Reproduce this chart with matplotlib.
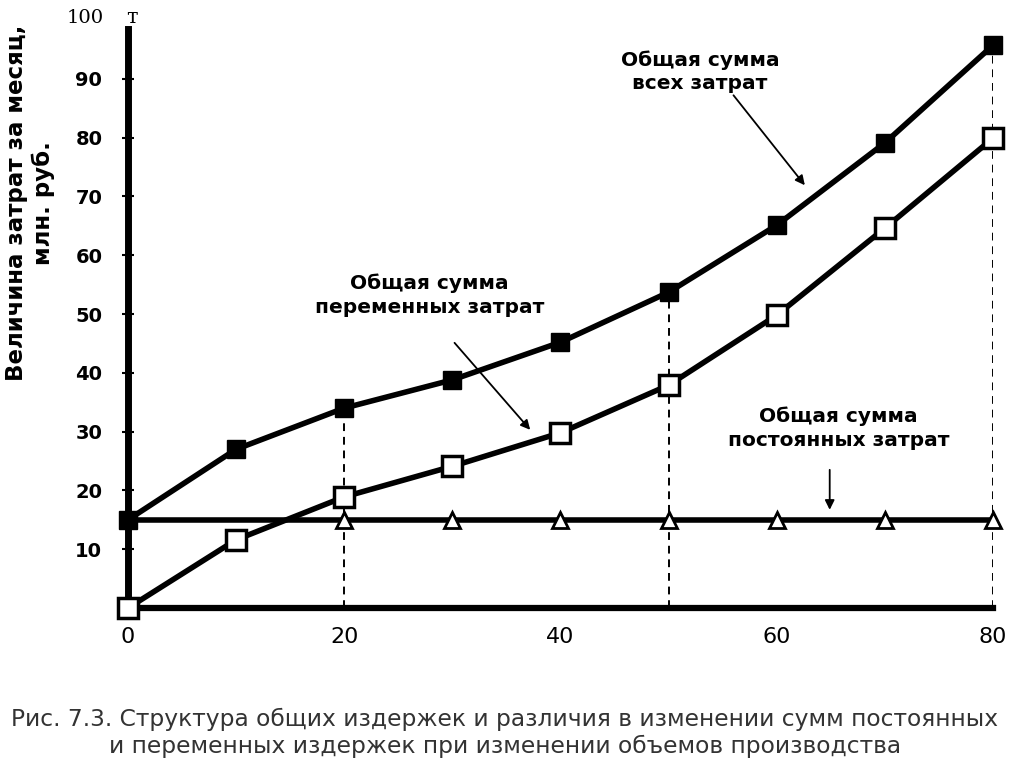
import matplotlib
matplotlib.use('Agg')
import matplotlib.pyplot as plt

plt.rcParams['font.family'] = ['DejaVu Sans']

# ---------------- данные ----------------
volume = [0, 10, 20, 30, 40, 50, 60, 70, 80]
total_costs = [15, 27, 34, 38.8, 45.2, 53.7, 65.1, 79.1, 95.7]
variable_costs = [0, 11.6, 18.9, 24.1, 29.8, 37.9, 49.8, 64.6, 79.9]
fixed_level = 15
fixed_marks_x = [20, 30, 40, 50, 60, 70, 80]
dashed_x = [20, 50, 80]

y_ticks = [10, 20, 30, 40, 50, 60, 70, 80, 90]
x_ticks = [0, 20, 40, 60, 80]

caption = ("Рис. 7.3. Структура общих издержек и различия в изменении сумм постоянных\n"
           "и переменных издержек при изменении объемов производства")

# ---------------- фигура ----------------
fig = plt.figure(figsize=(10.24, 7.67), dpi=100)
ax = fig.add_axes([0.125, 0.2073, 0.8447, 0.7666])
ax.set_xlim(0, 80)
ax.set_ylim(0, 100)

for s in ['top', 'right']:
    ax.spines[s].set_visible(False)
ax.spines['left'].set_linewidth(5)
ax.spines['left'].set_bounds(0, 98.5)
ax.spines['bottom'].set_linewidth(4.5)
ax.spines['bottom'].set_bounds(0, 80)

ax.set_yticks(y_ticks)
ax.set_yticklabels([str(v) for v in y_ticks], fontsize=14, fontweight='bold')
ax.tick_params(axis='y', direction='inout', length=9, width=1.5, pad=14)
ax.set_xticks(x_ticks)
ax.set_xticklabels([str(v) for v in x_ticks], fontsize=16)
ax.tick_params(axis='x', length=0, pad=14)
ax.set_xticks([20, 40, 60], minor=True)
ax.tick_params(axis='x', which='minor', direction='in', length=6, width=1)

# пунктирные вертикали
for xv in dashed_x:
    top = total_costs[volume.index(xv)]
    ax.plot([xv, xv], [0, top], color='black', lw=1.4, ls=(0, (4, 3)), zorder=1)

# постоянные затраты
ax.plot([0, 80], [fixed_level, fixed_level], color='black', lw=4, zorder=2)
ax.plot(fixed_marks_x, [fixed_level] * len(fixed_marks_x), ls='none', marker='^',
        ms=12, mfc='white', mec='black', mew=2, zorder=4, clip_on=False)

# переменные затраты
ax.plot(volume, variable_costs, color='black', lw=4, marker='s', ms=15,
        mfc='white', mec='black', mew=2.5, zorder=3, clip_on=False)

# общие затраты
ax.plot(volume, total_costs, color='black', lw=4, marker='s', ms=13,
        mfc='black', mec='black', zorder=3, clip_on=False)

# подписи "100" и "т"
ax.text(-4.0, 100.4, '100', fontsize=14, family='DejaVu Serif', ha='center', va='center')
ax.text(0.4, 100.4, 'т', fontsize=15, family='DejaVu Serif', ha='center', va='center')

# аннотации
arrow = dict(arrowstyle='-|>', color='black', lw=1.3, mutation_scale=14, shrinkA=0, shrinkB=0)
ax.annotate('', xy=(62.6, 71.9), xytext=(56.0, 87.2), arrowprops=arrow)
ax.annotate('', xy=(37.2, 30.3), xytext=(30.2, 45.1), arrowprops=arrow)
ax.annotate('', xy=(64.9, 16.7), xytext=(64.9, 23.5), arrowprops=arrow)

lab = dict(fontsize=14.5, fontweight='bold', ha='center', va='center', linespacing=1.3)
ax.text(52.9, 91.2, 'Общая сумма\nвсех затрат', **lab)
ax.text(27.9, 53.2, 'Общая сумма\nпеременных затрат', **lab)
ax.text(65.7, 30.6, 'Общая сумма\nпостоянных затрат', **lab)

fig.text(30 / 1024, 1 - 203 / 767, 'Величина затрат за месяц,\nмлн. руб.', rotation=90,
         fontsize=16.5, fontweight='bold', ha='center', va='center', multialignment='center',
         linespacing=1.15)

fig.text(0.493, 1 - 733 / 767, caption, fontsize=16.8, ha='center', va='center',
         linespacing=1.25, color='#333333')

fig.savefig('out.png', dpi=100)
